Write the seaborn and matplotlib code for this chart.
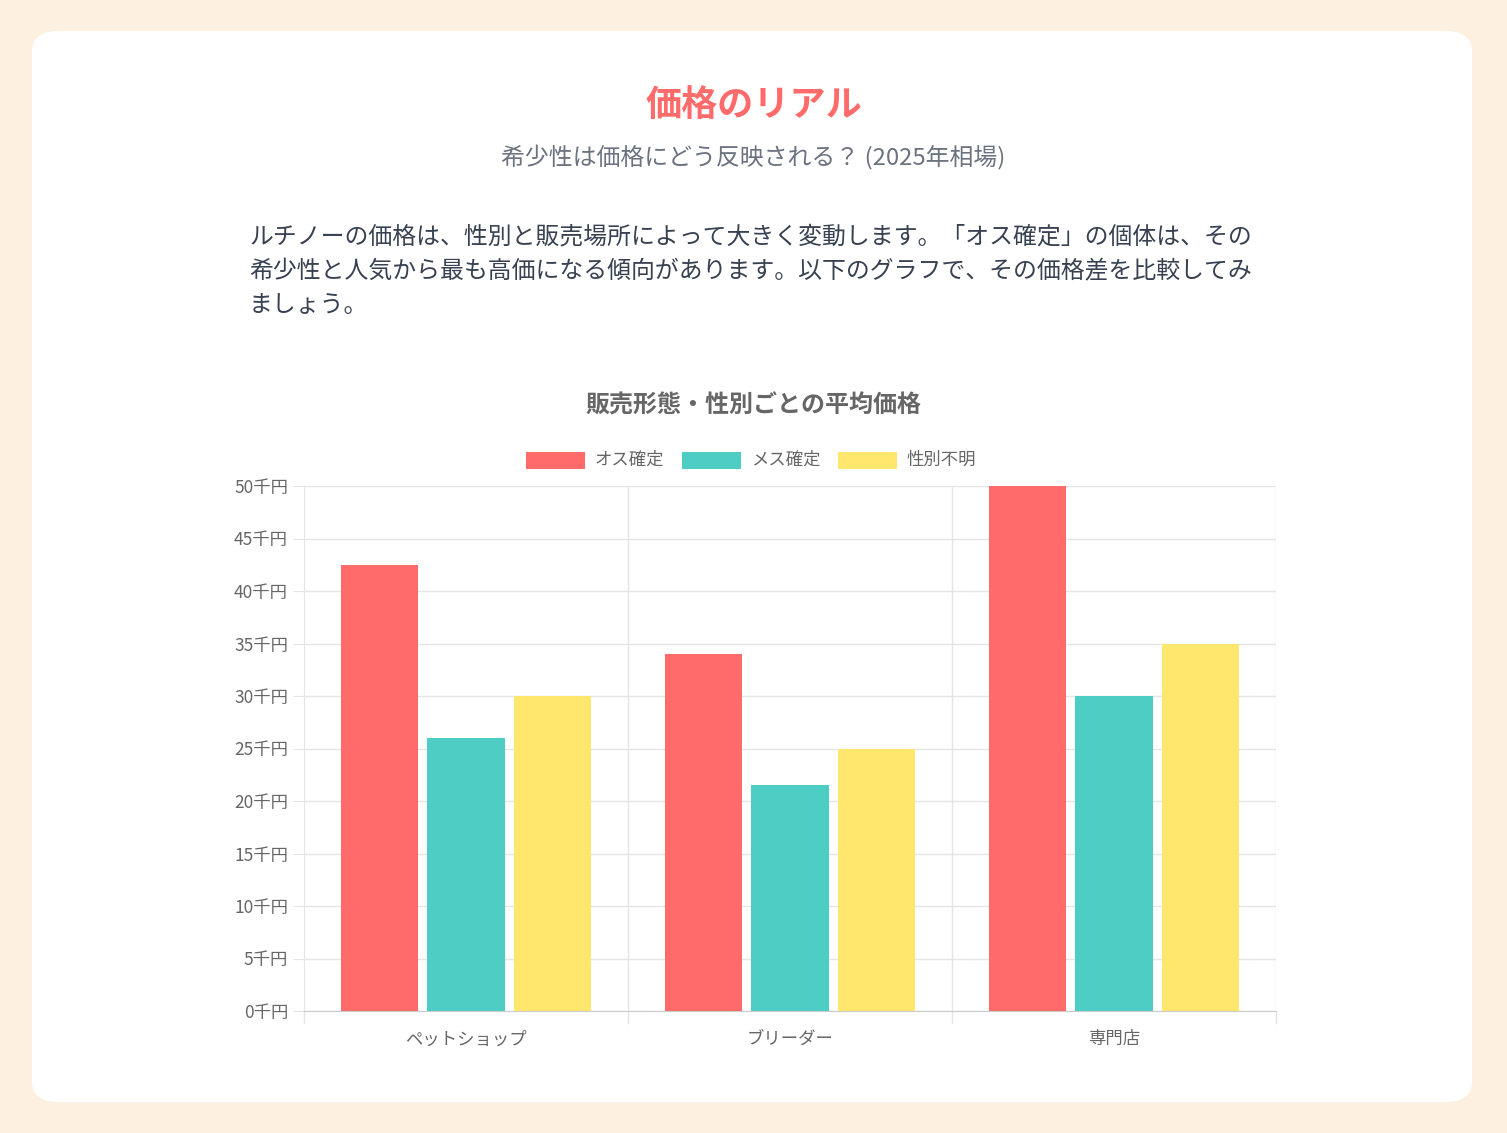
import pandas as pd
import seaborn as sns
from matplotlib import pyplot as plt
from matplotlib.patches import FancyBboxPatch, Rectangle

plt.rcParams['font.family'] = 'Noto Sans CJK JP'

stores = ['ペットショップ', 'ブリーダー', '専門店']
series = ['オス確定', 'メス確定', '性別不明']
male = [42.5, 34, 50]
female = [26, 21.5, 30]
unknown = [30, 25, 35]
colors = ['#ff6b6b', '#4ecdc4', '#ffe66d']
yticks = list(range(0, 51, 5))

rows = []
for i, s in enumerate(stores):
    for name, vals in zip(series, [male, female, unknown]):
        rows.append([s, name, vals[i]])
df = pd.DataFrame(rows, columns=['store', 'sex', 'price'])

fig = plt.figure(figsize=(15.07, 11.33), dpi=100)
fig.patch.set_facecolor('#fdf0e0')
card = FancyBboxPatch((32 / 1507, 1 - 1102 / 1133), 1440 / 1507, 1071 / 1133,
                      boxstyle='round,pad=0,rounding_size=0.018', transform=fig.transFigure,
                      facecolor='white', edgecolor='none', zorder=0)
fig.patches.append(card)

fig.text(0.5, 1 - 105 / 1133, '価格のリアル', ha='center', va='center', fontsize=26,
         fontweight='bold', color='#ff6b6b')
fig.text(0.5, 1 - 158 / 1133, '希少性は価格にどう反映される？ (2025年相場)', ha='center', va='center',
         fontsize=17.2, color='#6b7280')
body = ('ルチノーの価格は、性別と販売場所によって大きく変動します。「オス確定」の個体は、その\n'
        '希少性と人気から最も高価になる傾向があります。以下のグラフで、その価格差を比較してみ\n'
        'ましょう。')
fig.text(249 / 1507, 1 - 226 / 1133, body, ha='left', va='top', fontsize=17.2, color='#374151',
         linespacing=1.6)
fig.text(0.5, 1 - 406 / 1133, '販売形態・性別ごとの平均価格', ha='center', va='center', fontsize=17.3,
         fontweight='bold', color='#666666')

# legend
lx = [526, 682, 838]
for x, name, c in zip(lx, series, colors):
    fig.patches.append(Rectangle((x / 1507, 1 - 469 / 1133), 59 / 1507, 17 / 1133,
                                 transform=fig.transFigure, facecolor=c, edgecolor='none'))
    fig.text((x + 69) / 1507, 1 - 460 / 1133, name, ha='left', va='center', fontsize=12.5,
             color='#666666')

ax = fig.add_axes([304 / 1507, 1 - 1011 / 1133, 972 / 1507, 525 / 1133])
ax.set_zorder(5)
ax.set_facecolor('none')
sns.barplot(data=df, x='store', y='price', hue='sex', palette=colors, width=0.8, gap=0.1,
            saturation=1, legend=False, ax=ax, zorder=3)
ax.set_ylim(0, 50)
ax.set_xlim(-0.5, 2.5)
ax.set_yticks(yticks)
ax.set_yticklabels([f'{v}千円' for v in yticks], fontsize=12.5, color='#666666')
ax.tick_params(axis='x', labelsize=12.5, labelcolor='#666666', length=0, pad=14)
ax.tick_params(axis='y', length=8, color='#e5e5e5')
ax.set_xlabel('')
ax.set_ylabel('')
ax.grid(axis='y', color='#e5e5e5', lw=1, zorder=0)
for xb in [0.5, 1.5, 2.5]:
    ax.axvline(xb, color='#e5e5e5', lw=1, zorder=0)
    ax.plot([xb, xb], [0, -1.1], color='#e5e5e5', lw=1, clip_on=False)
ax.plot([-0.5, -0.5], [0, -1.1], color='#e5e5e5', lw=1, clip_on=False)
for sp in ['top', 'right']:
    ax.spines[sp].set_visible(False)
ax.spines['left'].set_color('#e5e5e5')
ax.spines['bottom'].set_color('#cccccc')

fig.savefig('out.png', dpi=100, facecolor=fig.get_facecolor())
